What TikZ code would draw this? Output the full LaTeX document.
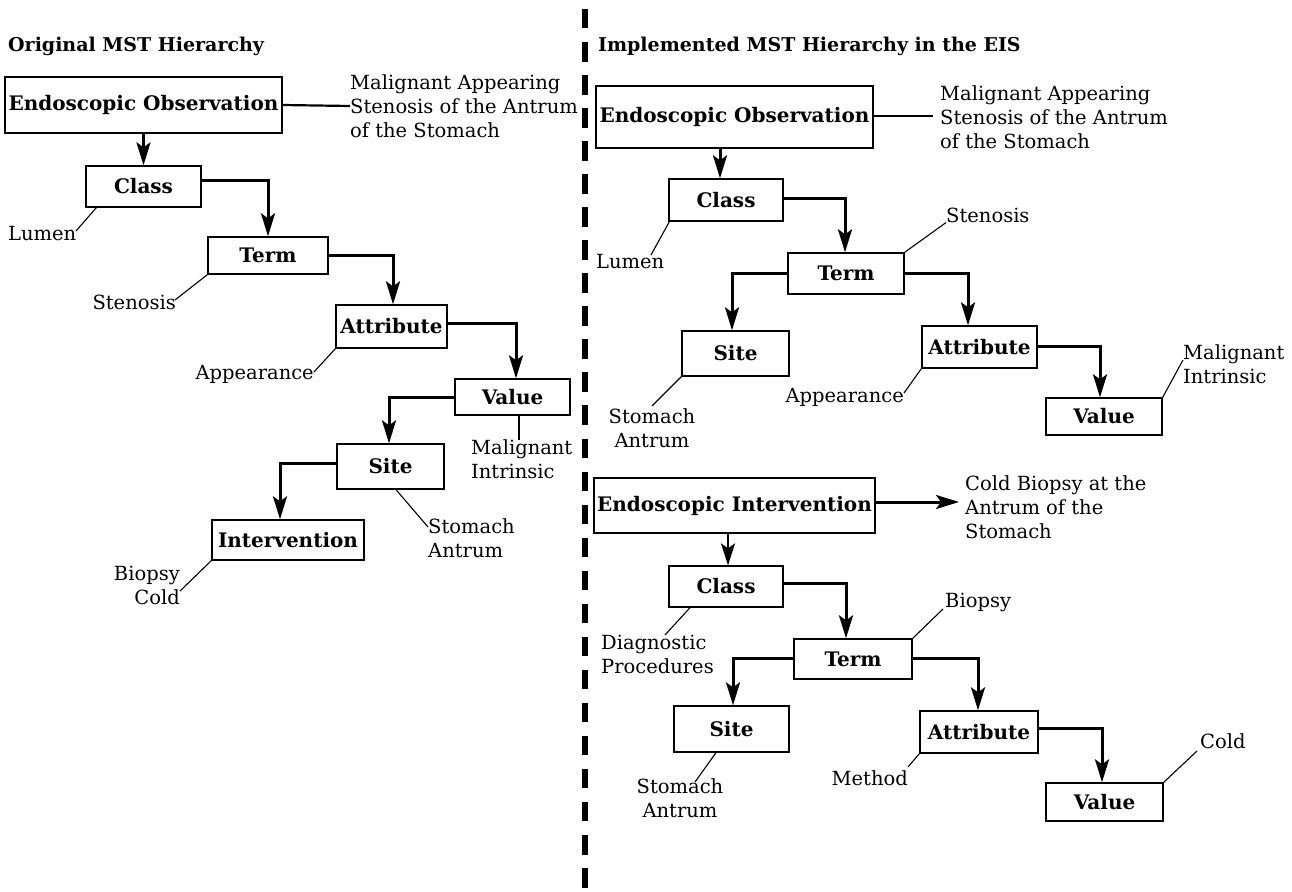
\documentclass[tikz,border=0pt]{standalone}
\usepackage{fontspec}
\setmainfont{DejaVu Serif}
\usetikzlibrary{arrows.meta}
\begin{document}
\begin{tikzpicture}[x=1pt,y=-1pt,
  box/.style={draw,line width=1.3pt,inner sep=0pt,font=\fontsize{20}{24}\selectfont\bfseries},
  lab/.style={inner sep=0pt,font=\fontsize{19.5}{24}\selectfont,align=left},
  labc/.style={inner sep=0pt,font=\fontsize{19.5}{24}\selectfont,align=center},
  labr/.style={inner sep=0pt,font=\fontsize{19.5}{24}\selectfont,align=right},
  ttl/.style={inner sep=0pt,anchor=west,font=\fontsize{19}{24}\selectfont\bfseries},
  conn/.style={line width=3pt,-{Stealth[length=23pt,width=14pt,inset=5pt]}},
  thinconn/.style={line width=2pt,-{Stealth[length=22pt,width=14pt,inset=5pt]}},
  ann/.style={line width=1.1pt},
  annthick/.style={line width=2.2pt}]
\useasboundingbox (0,0) rectangle (1292,891);
% divider
\coordinate (dtop) at (585,9);
\coordinate (dbot) at (585,891);
\draw[line width=6pt,dash pattern=on 19.5pt off 13.54pt] (dtop) -- (dbot);
% titles
\node[ttl] (t1) at (8,46) {Original MST Hierarchy};
\node[ttl] (t2) at (598,46) {Implemented MST Hierarchy in the EIS};
% ---------- left ----------
\node[box,minimum width=277,minimum height=56] (lEO) at (143.5,105) {Endoscopic Observation};
\node[box,minimum width=115,minimum height=41] (lClass) at (143.5,186.5) {Class};
\node[box,minimum width=120,minimum height=37] (lTerm) at (268,255.5) {Term};
\node[box,minimum width=111,minimum height=43] (lAttr) at (391.5,326.5) {Attribute};
\node[box,minimum width=115,minimum height=36] (lValue) at (512.5,397) {Value};
\node[box,minimum width=107,minimum height=45] (lSite) at (390.5,466.5) {Site};
\node[box,minimum width=152,minimum height=40] (lInt) at (288,540) {Intervention};
\draw[conn] (lEO.south) -- (lClass.north);
\draw[conn] ([yshift=6.5pt]lClass.east) -| (lTerm.north);
\draw[conn] (lTerm.east) -| ([xshift=1.5pt]lAttr.north);
\draw[conn] ([yshift=3.5pt]lAttr.east) -| ([xshift=3.5pt]lValue.north);
\draw[conn] (lValue.west) -| ([xshift=-1.5pt]lSite.north);
\draw[conn] ([yshift=3.5pt]lSite.west) -| ([xshift=-8pt]lInt.north);
\node[lab,anchor=west] (lEOt) at (350,106) {Malignant Appearing\\Stenosis of the Antrum\\of the Stomach};
\draw[annthick] (lEO.east) -- (lEOt.west);
\node[lab,anchor=west] (lLumen) at (8,234) {Lumen};
\coordinate (lLumenA) at (76,231);
\draw[ann] ([xshift=11pt]lClass.south west) -- (lLumenA);
\node[lab,anchor=east] (lSten) at (176,302) {Stenosis};
\coordinate (lStenA) at (175,300);
\draw[ann] (lTerm.south west) -- (lStenA);
\node[lab,anchor=east] (lApp) at (314,374) {Appearance};
\coordinate (lAppA) at (314,372);
\draw[ann] (lAttr.south west) -- (lAppA);
\node[lab,anchor=west] (lMal) at (471,459) {Malignant\\Intrinsic};
\coordinate (lMalA) at (519,440);
\draw[ann] ([xshift=6.5pt]lValue.south) -- (lMalA);
\node[lab,anchor=west] (lSA) at (428,538.5) {Stomach\\Antrum};
\coordinate (lSAA) at (428,527);
\draw[ann] ([xshift=5.5pt]lSite.south) -- (lSAA);
\node[labr,anchor=east] (lBC) at (180,585) {Biopsy\\Cold};
\coordinate (lBCA) at (180,591);
\draw[ann] (lInt.south west) -- (lBCA);
% ---------- right, observation ----------
\node[box,minimum width=277,minimum height=62] (rEO) at (734.5,117) {Endoscopic Observation};
\node[box,minimum width=114,minimum height=42] (rClass) at (726,200) {Class};
\node[box,minimum width=116,minimum height=41] (rTerm) at (846,273.5) {Term};
\node[box,minimum width=107,minimum height=45] (rSite) at (735.5,353.5) {Site};
\node[box,minimum width=115,minimum height=42] (rAttr) at (979.5,347) {Attribute};
\node[box,minimum width=116,minimum height=37] (rValue) at (1104,416.5) {Value};
\coordinate (rClassN) at ([xshift=-6pt]rClass.north);
\draw[conn] (rEO.south -| rClassN) -- (rClassN);
\draw[conn] ([yshift=2pt]rClass.east) -| ([xshift=-1pt]rTerm.north);
\draw[conn] (rTerm.west) -| ([xshift=-3.5pt]rSite.north);
\draw[conn] (rTerm.east) -| ([xshift=-11.5pt]rAttr.north);
\draw[conn] ([yshift=1pt]rAttr.east) -| ([xshift=-4pt]rValue.north);
\node[lab,anchor=west] (rEOt) at (940,117) {Malignant Appearing\\Stenosis of the Antrum\\of the Stomach};
\coordinate (rEOtA) at (933,116);
\draw[annthick] ([yshift=1pt]rEO.east) -- (rEOtA);
\node[lab,anchor=west] (rSten) at (946,215) {Stenosis};
\draw[ann] (rTerm.north east) -- (rSten.south west);
\node[lab,anchor=west] (rLumen) at (596,262) {Lumen};
\coordinate (rLumenA) at (651,255);
\draw[ann] ([xshift=1pt]rClass.south west) -- (rLumenA);
\node[labc] (rSA) at (652,428.5) {Stomach\\Antrum};
\coordinate (rSAA) at (652,406);
\draw[ann] (rSite.south west) -- (rSAA);
\node[lab,anchor=east] (rApp) at (904,397) {Appearance};
\coordinate (rAppA) at (904,393);
\draw[ann] (rAttr.south west) -- (rAppA);
\node[lab,anchor=west] (rMal) at (1183,364) {Malignant\\Intrinsic};
\coordinate (rMalA) at (1183,360);
\draw[ann] (rValue.north east) -- (rMalA);
% ---------- right, intervention ----------
\node[box,minimum width=281,minimum height=55] (rEI) at (734.5,505.5) {Endoscopic Intervention};
\node[box,minimum width=114,minimum height=41] (rClass2) at (726,586.5) {Class};
\node[box,minimum width=118,minimum height=40] (rTerm2) at (853,659) {Term};
\node[box,minimum width=115,minimum height=46] (rSite2) at (731.5,729) {Site};
\node[box,minimum width=118,minimum height=42] (rAttr2) at (979,732) {Attribute};
\node[box,minimum width=117,minimum height=38] (rValue2) at (1104.5,802) {Value};
\node[lab,anchor=west] (rEIt) at (965,507) {Cold Biopsy at the\\Antrum of the\\Stomach};
\coordinate (rEItA) at (959,502);
\draw[conn] (rEI.east |- rEItA) -- (rEItA);
\coordinate (rClass2N) at ([xshift=2pt]rClass2.north);
\draw[thinconn] (rEI.south -| rClass2N) -- (rClass2N);
\draw[conn] ([yshift=3.5pt]rClass2.east) -| ([xshift=-7pt]rTerm2.north);
\draw[conn] ([yshift=1pt]rTerm2.west) -| ([xshift=1.5pt]rSite2.north);
\draw[conn] ([yshift=1pt]rTerm2.east) -| ([xshift=-1pt]rAttr2.north);
\draw[conn] ([yshift=4pt]rAttr2.east) -| ([xshift=-2.5pt]rValue2.north);
\node[lab,anchor=west] (rDP) at (601,654.5) {Diagnostic\\Procedures};
\coordinate (rDPA) at (665,635);
\draw[ann] ([xshift=-36pt]rClass2.south) -- (rDPA);
\node[lab,anchor=west] (rBio) at (945,602) {Biopsy};
\coordinate (rBioA) at (943,609);
\draw[ann] (rTerm2.north east) -- (rBioA);
\node[labc] (rSA2) at (680,798.5) {Stomach\\Antrum};
\coordinate (rSA2A) at (695,782);
\draw[ann] ([xshift=-15.5pt]rSite2.south) -- (rSA2A);
\node[lab,anchor=east] (rMeth) at (908,778) {Method};
\coordinate (rMethA) at (908,767);
\draw[ann] (rAttr2.south west) -- (rMethA);
\node[lab,anchor=west] (rCold) at (1200,741) {Cold};
\coordinate (rColdA) at (1197,751);
\draw[ann] (rValue2.north east) -- (rColdA);
\end{tikzpicture}
\end{document}
